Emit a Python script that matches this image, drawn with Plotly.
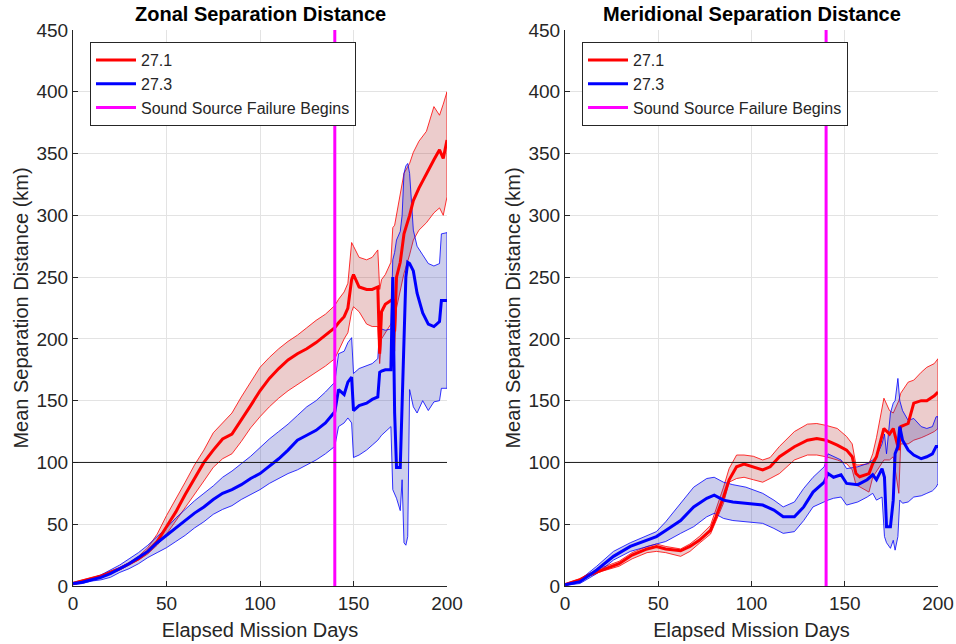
import plotly.graph_objects as go

# ---------------- Zonal separation, sigma 27.1 ----------------
zon_r_day = [0, 5, 10, 15, 20, 25, 30, 35, 40, 45, 50, 55, 60, 65, 70, 75, 80, 85, 90, 95,
             100, 105, 110, 115, 120, 125, 130, 135, 140,
             142, 145, 147, 149, 150, 153, 157, 160, 163, 164, 165, 167, 170, 171, 172, 173,
             175, 177, 180, 182, 185, 189, 193, 196, 198, 200]
zon_r_mean = [2, 4, 6, 8, 11, 14, 18, 22, 28, 36, 48, 60, 74, 87, 100, 110, 119, 123, 134, 146,
              158, 168, 176, 183, 188, 192, 197, 203, 209,
              213, 218, 225, 248, 252, 242, 240, 240, 242, 188, 222, 228, 231, 232, 206, 250,
              262, 285, 300, 312, 322, 334, 345, 353, 346, 361]
zon_r_hi = [3, 5, 7, 9, 12, 15, 19, 24, 31, 42, 57, 70, 84, 98, 110, 124, 132, 140, 153, 165,
            177, 185, 192, 198, 203, 209, 215, 220, 227,
            232, 238, 245, 278, 275, 266, 264, 266, 272, 240, 248, 252, 262, 290, 292, 300,
            315, 334, 342, 351, 360, 368, 388, 381, 390, 400]
zon_r_lo = [1, 3, 5, 7, 10, 13, 17, 21, 26, 33, 42, 52, 63, 74, 85, 96, 103, 107, 117, 128,
            137, 145, 152, 158, 163, 168, 173, 178, 184,
            190, 200, 205, 222, 226, 222, 212, 210, 210, 180, 200, 205, 212, 215, 190, 225,
            240, 253, 268, 280, 288, 294, 302, 306, 300, 315]

# ---------------- Zonal separation, sigma 27.3 ----------------
zon_b_day = [0, 5, 10, 15, 20, 25, 30, 35, 40, 45, 50, 55, 60, 65, 70, 75, 80, 85, 90, 95,
             100, 105, 110, 115, 120, 125, 130, 135, 140,
             142, 145, 147, 149, 150, 153, 157, 160, 163, 164, 165, 167, 170, 171, 172, 173,
             175, 176, 177, 178, 179, 180, 182, 184, 187, 190, 193, 196, 197, 200]
zon_b_mean = [2, 3, 5, 7, 10, 14, 18, 23, 28, 35, 41, 47, 53, 59, 64, 70, 75, 78, 82, 87,
              91, 97, 103, 110, 118, 122, 126, 132, 141,
              159, 155, 165, 169, 142, 146, 148, 151, 153, 173, 174, 175, 175, 250, 140, 96,
              96, 150, 201, 250, 262, 261, 255, 237, 221, 212, 210, 214, 231, 231]
zon_b_hi = [2, 4, 6, 9, 13, 17, 22, 27, 33, 40, 47, 55, 62, 69, 75, 81, 88, 93, 99, 105,
            112, 119, 125, 131, 138, 145, 150, 157, 165,
            188, 190, 197, 201, 172, 176, 178, 180, 184, 210, 208, 207, 208, 264, 270, 280,
            287, 300, 334, 340, 342, 334, 288, 275, 268, 261, 259, 261, 285, 286]
zon_b_lo = [1, 2, 4, 5, 7, 11, 14, 18, 23, 27, 31, 36, 41, 47, 52, 58, 62, 65, 70, 74,
            78, 83, 87, 91, 94, 98, 102, 107, 113,
            129, 132, 136, 132, 104, 106, 110, 114, 118, 120, 122, 125, 129, 78, 74, 71,
            61, 86, 35, 33, 40, 159, 145, 140, 150, 142, 149, 150, 160, 160]

# ---------------- Meridional separation, sigma 27.1 ----------------
mer_r_day = [0, 8, 13, 20, 29, 36, 44, 49, 54, 62, 67, 72, 78, 81, 85, 88, 92, 96, 101, 106,
             110, 115, 123, 130, 135, 140, 146, 151, 154, 156, 158, 163, 165, 167, 171, 174,
             176, 179, 180, 184, 187, 191, 194, 198, 200]
mer_r_mean = [1, 5, 9, 13, 18, 25, 30, 32, 30, 28.5, 32, 37, 45, 56, 72, 86, 96.5, 98.6, 96.5, 94,
              96.5, 104.6, 112.7, 118, 119.4, 118, 114, 110, 104.6, 91, 88.4, 91, 99, 104.6, 127.5, 123,
              127.5, 110, 129, 131.5, 148, 150, 150, 154, 157]
mer_r_hi = [2, 6, 10, 15, 20, 27, 32, 34, 32, 30, 34, 40, 49, 62, 80, 95, 106, 106, 105, 102,
            104, 113, 125, 131, 131.5, 130, 127.5, 121, 115, 98, 98, 99, 107, 120, 152, 142,
            140, 150, 156, 165, 166.6, 173, 177, 180, 184]
mer_r_lo = [0, 4, 8, 12, 16, 22, 27, 28, 27, 24, 28, 34.5, 42, 52, 67, 84, 87, 88, 86, 84,
            87, 91, 102, 106, 106, 104.6, 102, 99, 94, 82, 80, 76, 88, 92, 102, 102,
            104.6, 75, 115, 115, 118, 120, 122, 125, 127.5]

# ---------------- Meridional separation, sigma 27.3 ----------------
mer_b_day = [0, 8, 17, 26, 35, 44, 49, 54, 62, 69, 76, 80, 85, 90, 97, 106, 112, 117, 123, 128,
             133, 139, 141, 144, 148, 151, 157, 162, 165, 167, 170, 171.3, 172.4, 174.5, 176, 177,
             178.5, 179.5, 181, 184, 187, 191, 194, 197, 199, 200]
mer_b_mean = [1, 3.5, 13, 24, 32, 37, 40, 45, 53, 64, 71, 73.6, 69.5, 68, 67, 65.5, 61.5, 56, 56, 64,
              76, 84, 91, 88, 90, 83, 82, 86, 90, 86, 95, 88, 48, 48, 69.5, 107,
              113, 129, 118, 110, 106, 103, 104.6, 107, 113, 113]
mer_b_hi = [1.5, 5, 16, 28, 35, 41, 44, 52, 67, 80, 87, 88, 84, 82, 80, 75, 69.5, 64, 68, 79,
            88, 96.5, 107, 105, 102, 95, 96.5, 99, 102, 105, 115, 123, 107, 140, 148, 150,
            168, 150, 142, 134, 135.6, 129, 127.5, 129, 137, 137]
mer_b_lo = [0.5, 2, 10, 21, 28, 31.8, 34, 36, 42.6, 48, 56, 58.8, 54.7, 53, 52, 50.7, 46.6, 42.6, 44, 53,
            64, 68, 69.5, 71, 72, 65.5, 68, 72, 75, 69.5, 72, 40, 35, 30.5, 37, 29,
            40, 69.5, 67, 68, 72, 73, 75, 77, 80, 83]

failure_day = 140
reference_km = 100
panel_titles = ["Zonal Separation Distance", "Meridional Separation Distance"]
series_names = ["27.1", "27.3", "Sound Source Failure Begins"]

FONT = "Liberation Sans, Arial, Helvetica, sans-serif"
TXT = "#262626"
RED = "#ff0000"
BLUE = "#0000ff"
MAGENTA = "#ff00ff"
RED_FILL = "rgba(175,40,40,0.24)"
BLUE_FILL = "rgba(40,50,175,0.24)"

fig = go.Figure()


def add_band(days, lo, hi, xa, ya, edge, fill):
    fig.add_trace(go.Scatter(
        x=days + days[::-1], y=hi + lo[::-1], mode="lines", fill="toself",
        fillcolor=fill, line=dict(color=edge, width=0.8),
        showlegend=False, hoverinfo="skip", xaxis=xa, yaxis=ya))


def add_mean(days, vals, xa, ya, color, name, legend):
    fig.add_trace(go.Scatter(
        x=days, y=vals, mode="lines", line=dict(color=color, width=3),
        name=name, legend=legend, xaxis=xa, yaxis=ya))


panels = [
    ("x", "y", "legend", zon_r_day, zon_r_mean, zon_r_lo, zon_r_hi,
     zon_b_day, zon_b_mean, zon_b_lo, zon_b_hi),
    ("x2", "y2", "legend2", mer_r_day, mer_r_mean, mer_r_lo, mer_r_hi,
     mer_b_day, mer_b_mean, mer_b_lo, mer_b_hi),
]

for xa, ya, lg, rd, rm, rl, rh, bd, bm, bl, bh in panels:
    add_band(rd, rl, rh, xa, ya, RED, RED_FILL)
    add_band(bd, bl, bh, xa, ya, BLUE, BLUE_FILL)
    add_mean(rd, rm, xa, ya, RED, series_names[0], lg)
    add_mean(bd, bm, xa, ya, BLUE, series_names[1], lg)
    fig.add_trace(go.Scatter(
        x=[failure_day, failure_day], y=[0, 450], mode="lines",
        line=dict(color=MAGENTA, width=3), name=series_names[2],
        legend=lg, xaxis=xa, yaxis=ya))
    fig.add_shape(type="line", xref=xa, yref=ya, x0=0, x1=200,
                  y0=reference_km, y1=reference_km,
                  line=dict(color="#1a1a1a", width=1), layer="above")

x_domains = [[73 / 956, 447 / 956], [565 / 956, 938 / 956]]
y_domain = [1 - 586 / 644, 1 - 30 / 644]

axis_common = dict(
    showgrid=True, gridcolor="#e3e3e3", gridwidth=1,
    showline=True, linecolor=TXT, linewidth=1,
    ticks="inside", ticklen=5, tickcolor=TXT, tickwidth=1,
    tickfont=dict(family=FONT, size=19, color=TXT),
    zeroline=False, mirror=False, automargin=False,
)

for i, (xd, title) in enumerate(zip(x_domains, panel_titles)):
    sfx = "" if i == 0 else "2"
    fig.layout["xaxis" + sfx] = dict(
        axis_common, domain=xd, range=[0, 200], tickvals=[0, 50, 100, 150, 200],
        anchor="y" + sfx,
        title=dict(text="Elapsed Mission Days", font=dict(family=FONT, size=20, color=TXT),
                   standoff=10))
    fig.layout["yaxis" + sfx] = dict(
        axis_common, domain=y_domain, range=[0, 450],
        tickvals=list(range(0, 451, 50)), anchor="x" + sfx,
        title=dict(text="Mean Separation Distance (km)",
                   font=dict(family=FONT, size=20, color=TXT), standoff=2))
    fig.add_annotation(
        text="<b>" + title + "</b>", xref="paper", yref="paper",
        x=(xd[0] + xd[1]) / 2, y=1 - 14 / 644, xanchor="center", yanchor="middle",
        showarrow=False, font=dict(family=FONT, size=20, color="black"))

legend_style = dict(
    bgcolor="white", bordercolor="#262626", borderwidth=1,
    font=dict(family=FONT, size=16, color=TXT),
    xanchor="left", yanchor="top", itemwidth=40, tracegroupgap=0,
)
fig.update_layout(
    width=956, height=644,
    margin=dict(l=0, r=0, t=0, b=0),
    paper_bgcolor="white", plot_bgcolor="white",
    font=dict(family=FONT, color=TXT),
    legend=dict(legend_style, x=90 / 956, y=1 - 42 / 644),
    legend2=dict(legend_style, x=582 / 956, y=1 - 42 / 644),
    showlegend=True,
)

fig.write_html("out.html")
